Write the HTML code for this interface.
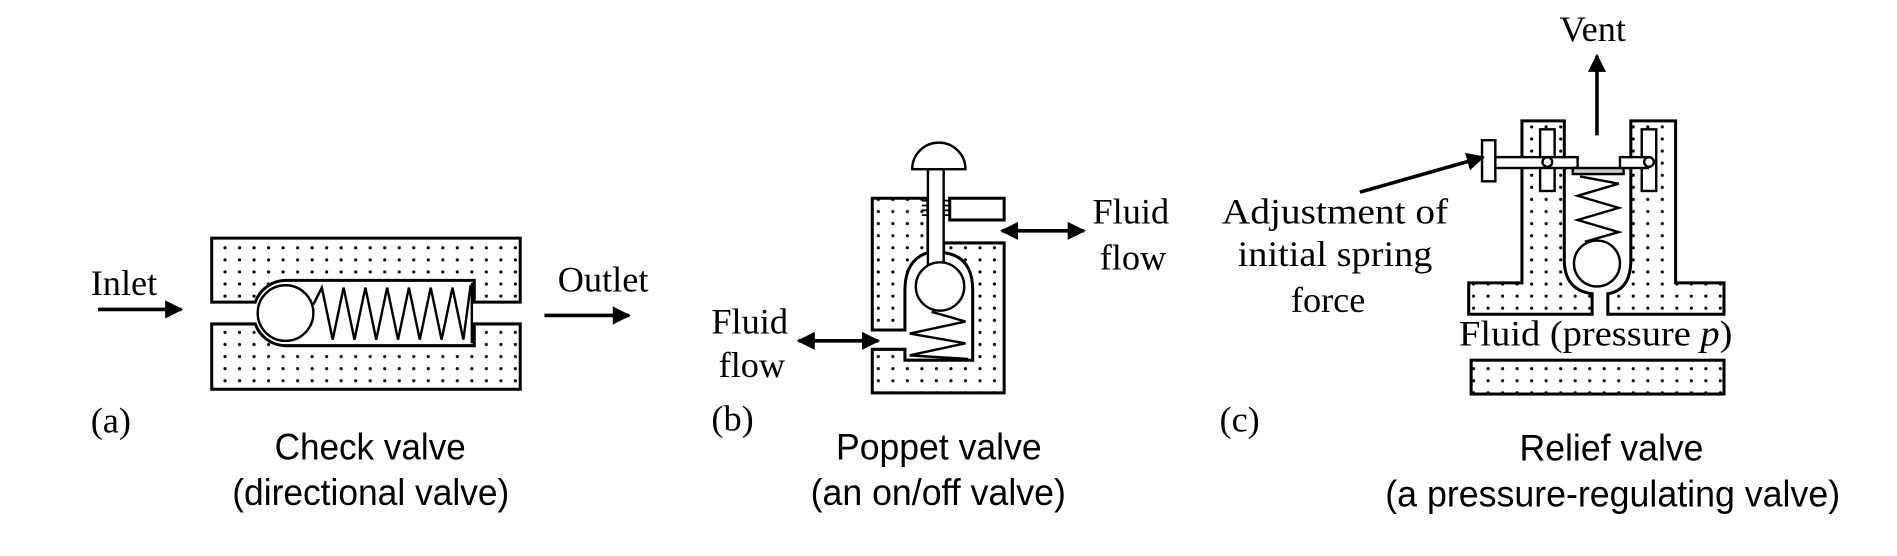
<!DOCTYPE html>
<html><head><meta charset="utf-8"><style>
html,body{margin:0;padding:0;background:#fff;}
svg{display:block;}
.s{font-family:"Liberation Serif",serif;font-size:30px;fill:#000;}
.c{font-family:"Liberation Sans",sans-serif;font-size:31px;fill:#000;}
</style></head><body>
<svg width="1897" height="556" viewBox="0 0 1568 460" preserveAspectRatio="none" xmlns="http://www.w3.org/2000/svg">
<defs>
<pattern id="d" width="12" height="10" patternUnits="userSpaceOnUse"><circle cx="6" cy="5" r="1.3" fill="#000"/></pattern>
<marker id="ah" viewBox="0 0 10 10" refX="9" refY="5" markerWidth="5.5" markerHeight="5" orient="auto-start-reverse"><path d="M0,0L10,5L0,10Z" fill="#000"/></marker>
</defs>
<g stroke="#000" stroke-width="2.5" fill="url(#d)" stroke-linejoin="miter">
<path d="M175,197H430V250H392V232H236A27,27 0 0 0 211,250H175Z"/>
<path d="M175,268H211A27,27 0 0 0 236,286H392V268H430V322H175Z"/>
</g>
<g stroke="#000" stroke-width="2" fill="none">
<circle cx="236" cy="259" r="23" fill="#fff"/>
<path d="M259,252L266,238L275,281L284,238L293,281L302,238L311,281L320,238L329,281L338,238L347,281L356,238L365,281L374,238L383,281L389,236"/>
<line x1="390" y1="234" x2="390" y2="284"/>
</g>
<g stroke="#000" stroke-width="3">
<line x1="81" y1="256" x2="150" y2="256" marker-end="url(#ah)"/>
<line x1="450" y1="261" x2="520" y2="261" marker-end="url(#ah)"/>
</g>
<text class="s" x="75" y="244">Inlet</text>
<text class="s" x="461" y="241">Outlet</text>
<text class="s" x="75" y="358">(a)</text>
<text class="c" x="227" y="380" textLength="158" lengthAdjust="spacingAndGlyphs">Check valve</text>
<text class="c" x="192" y="418" textLength="229" lengthAdjust="spacingAndGlyphs">(directional valve)</text>

<g stroke="#000" stroke-width="2.5" fill="url(#d)">
<path d="M721,164H767V209Q748,215 748,240V273H721Z"/>
<path d="M780,201H830V325H721V289H748V298H804V240Q804,212 780,209Z"/>
<rect x="785" y="164" width="45" height="18" fill="#fff"/>
</g>
<g stroke="#000" stroke-width="2" fill="#fff">
<rect x="767" y="140" width="13" height="84"/>
<path d="M754,140A22,22 0 0 1 798,140Z"/>
<circle cx="777" cy="237" r="20"/>
<path d="M780,166H785M780,170H785M780,174H785M780,178H785M762,166H767M762,170H767M762,174H767M762,178H767" fill="none" stroke-width="1.5"/>
<path d="M770,258L798,266L752,276L798,284L752,294L800,297" fill="none"/>
</g>
<g stroke="#000" stroke-width="3">
<line x1="660" y1="282" x2="726" y2="282" marker-start="url(#ah)" marker-end="url(#ah)"/>
<line x1="828" y1="191" x2="896" y2="191" marker-start="url(#ah)" marker-end="url(#ah)"/>
</g>
<text class="s" x="903" y="185">Fluid</text>
<text class="s" x="909" y="223">flow</text>
<text class="s" x="588" y="276">Fluid</text>
<text class="s" x="594" y="312">flow</text>
<text class="s" x="588" y="356">(b)</text>
<text class="c" x="691" y="380" textLength="170" lengthAdjust="spacingAndGlyphs">Poppet valve</text>
<text class="c" x="670" y="418" textLength="211" lengthAdjust="spacingAndGlyphs">(an on/off valve)</text>

<g stroke="#000" stroke-width="2.5" fill="url(#d)">
<path d="M1258,100H1293V215Q1293,240 1316,243V260H1214V234H1258Z"/>
<path d="M1348,100H1385V234H1425V260H1329V243Q1348,240 1348,215Z"/>
<rect x="1216" y="298" width="209" height="28"/>
</g>
<g stroke="#000" stroke-width="2" fill="#fff">
<rect x="1273" y="107" width="12" height="51"/>
<rect x="1357" y="107" width="12" height="51"/>
<rect x="1227" y="130" width="77" height="9"/>
<rect x="1339" y="130" width="23" height="9"/>
<rect x="1225" y="116" width="11" height="34"/>
<rect x="1300" y="139" width="42" height="5" fill="#ccc"/>
<circle cx="1279" cy="134" r="4"/>
<circle cx="1363" cy="134" r="4"/>
<circle cx="1320" cy="218" r="19"/>
<path d="M1306,146L1338,152L1304,162L1338,172L1304,182L1338,192L1310,200" fill="none"/>
</g>
<g stroke="#000" stroke-width="3">
<line x1="1320" y1="112" x2="1320" y2="46" marker-end="url(#ah)"/>
<line x1="1124" y1="159" x2="1226" y2="130" marker-end="url(#ah)"/>
</g>
<text class="s" x="1289" y="34">Vent</text>
<text class="s" x="1010" y="185" textLength="187" lengthAdjust="spacingAndGlyphs">Adjustment of</text>
<text class="s" x="1023" y="220" textLength="161" lengthAdjust="spacingAndGlyphs">initial spring</text>
<text class="s" x="1067" y="258">force</text>
<text class="s" x="1206" y="286" textLength="226" lengthAdjust="spacingAndGlyphs">Fluid (pressure <tspan font-style="italic">p</tspan>)</text>
<text class="s" x="1008" y="357">(c)</text>
<text class="c" x="1256" y="381" textLength="152" lengthAdjust="spacingAndGlyphs">Relief valve</text>
<text class="c" x="1145" y="419" textLength="376" lengthAdjust="spacingAndGlyphs">(a pressure-regulating valve)</text>
</svg>
</body></html>
